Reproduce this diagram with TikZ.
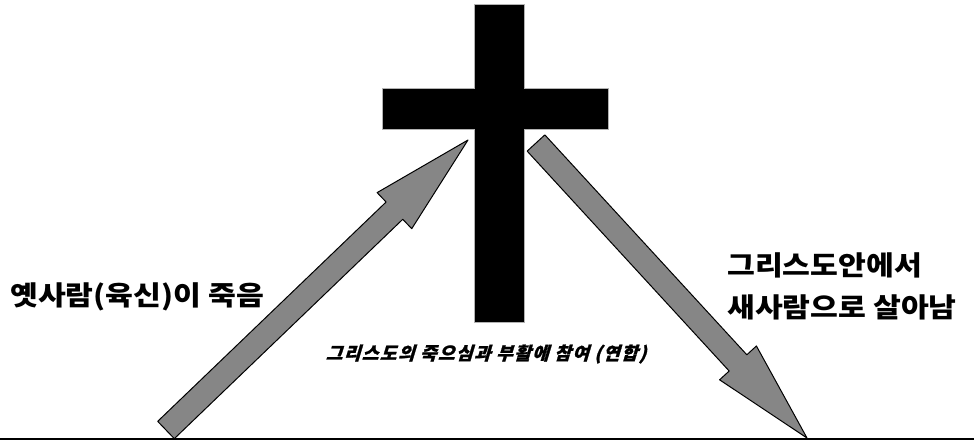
\documentclass[tikz,border=0pt]{standalone}
\usepackage{fontspec}
\newfontfamily\kor{Noto Sans CJK KR}[FakeStretch=1.12]
\newfontfamily\korslant{Noto Sans CJK KR}[FakeSlant=0.3, FakeBold=1.2, LetterSpace=8]
\usetikzlibrary{calc, positioning}
\tikzset{
  bigarrow/.style={draw=black, fill=gray!95!white, line width=1pt, line join=round},
  label/.style={font=\kor\bfseries\fontsize{27}{42}\selectfont, inner sep=0pt, align=left},
}
% fat arrow polygon from tail to tip
\newcommand{\fatarrow}[2]{%
  \coordinate (hb) at ($(#2)!102pt!(#1)$);
  \draw[bigarrow] ($(#1)!12pt!90:(#2)$) -- ($(hb)!12pt!90:(#2)$) -- ($(hb)!25pt!90:(#2)$)
    -- (#2) -- ($(hb)!25pt!-90:(#2)$) -- ($(hb)!12pt!-90:(#2)$) -- ($(#1)!12pt!-90:(#2)$) -- cycle;}

\begin{document}
\begin{tikzpicture}[x=1pt, y=-1pt]
  \useasboundingbox (0,0) rectangle (974,440);
  % cross
  \fill[black, draw=gray!60, line width=0.6pt] (474,4) -- (524,4) -- (524,88) -- (608,88) -- (608,129)
    -- (524,129) -- (524,322) -- (474,322) -- (474,129) -- (382,129) -- (382,88) -- (474,88) -- cycle;
  % ground line
  \coordinate (gl) at (0,439);
  \coordinate (gr) at (974,439);
  \draw[line width=1.2pt] (gl) -- (gr);
  % arrows
  \coordinate (ltail) at (166,430);
  \coordinate (ltip) at (468,140);
  \coordinate (rtail) at (536,143);
  \coordinate (rtip) at (807,438);
  \fatarrow{ltail}{ltip}
  \fatarrow{rtail}{rtip}
  % labels
  \node[label, anchor=west] (oldman) at (10,297) {옛사람(육신)이 죽음};
  \node[label, anchor=north west] (newman) at (727,252) {그리스도안에서\\새사람으로 살아남};
  \node[font=\korslant\bfseries\fontsize{18}{20}\selectfont, inner sep=0pt] (union) at (486,354)
    {그리스도의 죽으심과 부활에 참여 (연합)};
\end{tikzpicture}
\end{document}
